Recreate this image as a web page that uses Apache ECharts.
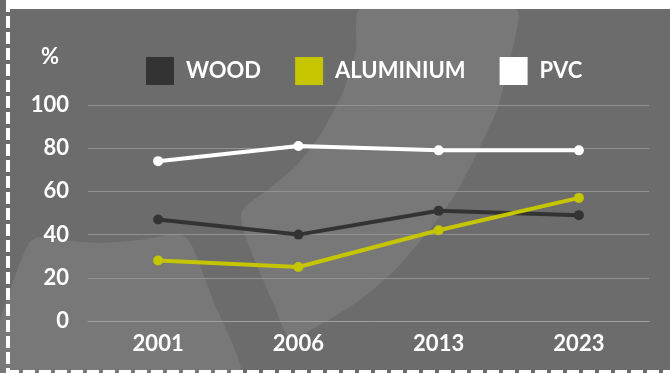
<!DOCTYPE html>
<html>
<head>
<meta charset="utf-8">
<script src="https://cdn.jsdelivr.net/npm/echarts@6/dist/echarts.min.js"></script>
<style>
  html, body { margin: 0; padding: 0; background: #6c6c6c; }
  #chart { width: 670px; height: 373px; }
</style>
</head>
<body>
<div id="chart"></div>
<script>
const years = ['2001', '2006', '2013', '2023']
const wood = [47, 40, 51, 49]
const aluminium = [28, 25, 42, 57]
const pvc = [74, 81, 79, 79]
const yTicks = [0, 20, 40, 60, 80, 100]

const FONT = 'Lato, "Open Sans", sans-serif'

const chart = echarts.init(document.getElementById('chart'))

function line(name, data, color, width) {
  return {
    name,
    type: 'line',
    data,
    symbol: 'circle',
    symbolSize: 10,
    itemStyle: { color },
    lineStyle: { color, width },
    emphasis: { disabled: true },
  }
}

chart.setOption({
  backgroundColor: '#6c6c6c',
  animation: false,
  textStyle: { fontFamily: FONT },
  graphic: [
    // decorative lighter shapes in the background
    {
      type: 'polygon', z: -10, silent: true,
      shape: {
        points: [[360, 9], [356, 50], [343, 92], [322, 132], [296, 166], [265, 192], [248, 204], [241, 214],
          [244, 232], [258, 268], [274, 305], [290, 338], [325, 322], [360, 300], [395, 270], [427, 233],
          [455, 195], [477, 153], [497, 110], [510, 60], [516, 9]],
        smooth: 0.2,
      },
      style: { fill: '#787878' },
    },
    {
      type: 'polygon', z: -10, silent: true,
      shape: {
        points: [[0, 322], [18, 268], [29, 243], [38, 237], [70, 241], [100, 243], [140, 240], [176, 234],
          [186, 237], [193, 248], [215, 305], [240, 373], [0, 373]],
        smooth: 0.15,
      },
      style: { fill: '#787878' },
    },
    { type: 'rect', z: -5, silent: true, shape: { x: 10, y: 0, width: 660, height: 9 }, style: { fill: '#ffffff' } },
    {
      type: 'line', z: 50, silent: true,
      shape: { x1: 8, y1: 0, x2: 8, y2: 373 },
      style: { stroke: '#ffffff', lineWidth: 4, lineDash: [12, 4] },
    },
    {
      type: 'line', z: 50, silent: true,
      shape: { x1: 7, y1: 372, x2: 670, y2: 372 },
      style: { stroke: '#ffffff', lineWidth: 4, lineDash: [12, 4] },
    },
    {
      type: 'text', z: 20, left: 41, top: 46,
      style: { text: '%', fill: '#ffffff', font: 'bold 22px ' + FONT },
    },
  ],
  legend: {
    top: 57,
    left: 146,
    padding: 0,
    itemWidth: 28,
    itemHeight: 28,
    itemGap: 34,
    icon: 'rect',
    selectedMode: false,
    textStyle: { color: '#ffffff', fontSize: 22, fontWeight: 'bold', fontFamily: FONT, padding: [0, 0, 0, 7] },
    data: ['WOOD', 'ALUMINIUM', 'PVC'],
  },
  grid: { left: 88, right: 21, top: 105, bottom: 52 },
  xAxis: {
    type: 'category',
    data: years,
    boundaryGap: true,
    axisLine: { lineStyle: { color: '#a0a0a0', width: 1 } },
    axisTick: { show: false },
    axisLabel: { color: '#ffffff', fontSize: 22, fontWeight: 'bold', fontFamily: FONT, margin: 12 },
  },
  yAxis: {
    type: 'value',
    min: yTicks[0],
    max: yTicks[yTicks.length - 1],
    interval: 20,
    axisLine: { show: false },
    axisTick: { show: false },
    axisLabel: { color: '#ffffff', fontSize: 22, fontWeight: 'bold', fontFamily: FONT, margin: 19 },
    splitLine: { lineStyle: { color: '#929292', width: 1 } },
  },
  series: [
    line('WOOD', wood, '#333333', 4),
    line('ALUMINIUM', aluminium, '#c6c600', 4),
    line('PVC', pvc, '#ffffff', 4),
  ],
})
</script>
</body>
</html>
